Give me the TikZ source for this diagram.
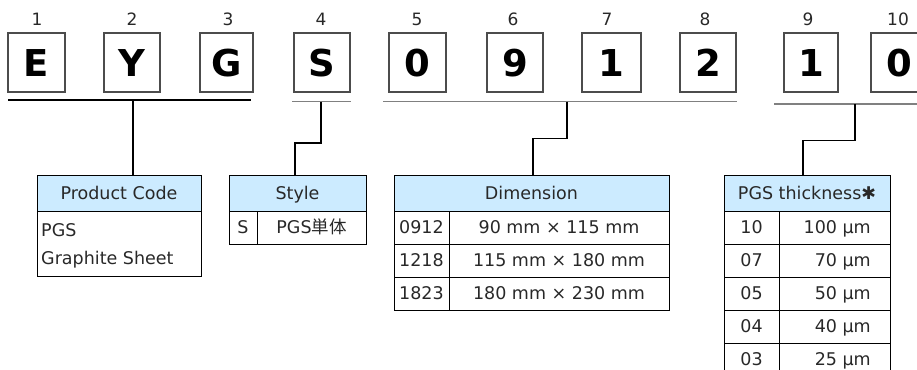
\documentclass[tikz,border=0pt]{standalone}
\usepackage{fontspec}
\setmainfont{DejaVu Sans}
\newfontfamily\cjk{Noto Sans CJK JP}
\definecolor{hdr}{RGB}{204,235,255}
\definecolor{txt}{RGB}{40,40,40}
\newcommand{\tcell}[7]{\node[#1,minimum width={(#5-#3)*1pt},minimum height={(#6-#4)*1pt}] (#2) at ({(#3+#5)/2},{(#4+#6)/2}) {#7};}
\begin{document}
\begin{tikzpicture}[x=1pt,y=-1pt,
  digit/.style={draw=black!70,line width=1.1pt,inner sep=0pt,font=\fontsize{37}{37}\selectfont\bfseries,minimum height=59pt,text height=27pt,text depth=0pt},
  num/.style={font=\fontsize{17}{17}\selectfont,inner sep=0pt,text height=12.4pt,text depth=0pt,text=txt},
  cell/.style={draw=black,line width=1pt,inner sep=0pt,font=\fontsize{17.5}{20}\selectfont,text height=12.7pt,text depth=0pt,text=txt},
  head/.style={cell,fill=hdr},
  plain/.style={inner sep=0pt,font=\fontsize{17.5}{20}\selectfont,text height=12.7pt,text depth=0pt,text=txt},
  uline/.style={line width=1.4pt,draw=black!50},
  conn/.style={line width=1.6pt,draw=black}]
\path[use as bounding box] (0,0) rectangle (917,369);
\clip (0,0) rectangle (917,369);

% digit boxes
\tcell{digit}{d1}{8}{33}{65}{92}{E}
\tcell{digit}{d2}{104}{33}{160}{92}{Y}
\tcell{digit}{d3}{200}{33}{253}{92}{G}
\tcell{digit}{d4}{294}{33}{350}{92}{S}
\tcell{digit}{d5}{389}{33}{446}{92}{0}
\tcell{digit}{d6}{487}{33}{543}{92}{9}
\tcell{digit}{d7}{582}{33}{641}{92}{1}
\tcell{digit}{d8}{680}{33}{736}{92}{2}
\tcell{digit}{d9}{784}{33}{838}{92}{1}
\tcell{digit}{d10}{871}{33}{928}{92}{0}

% position numbers
\node[num] (n1) at (37,19.5) {1};
\node[num] (n2) at (132,19.5) {2};
\node[num] (n3) at (228,19.5) {3};
\node[num] (n4) at (321,19.5) {4};
\node[num] (n5) at (417,19.5) {5};
\node[num] (n6) at (513,19.5) {6};
\node[num] (n7) at (607,19.5) {7};
\node[num] (n8) at (705,19.5) {8};
\node[num] (n9) at (808,19.5) {9};
\node[num] (n10) at (898,19.5) {10};

% underlines
\draw[uline,draw=black,line width=1.6pt] (8,100) -- (251,100);
\draw[uline] (292,101.7) -- (351,101.7);
\draw[uline] (383,101.5) -- (737,101.5);
\draw[uline] (774,104) -- (917,104);
\coordinate (u1) at (133,100);
\coordinate (u2) at (321,101.7);
\coordinate (u3) at (567,101.5);
\coordinate (u4) at (855,104);

% Product Code table
\tcell{head}{pch}{37}{175}{201}{211}{Product Code}
\tcell{cell}{pcb}{37}{211}{201}{276}{}
\node[plain,anchor=west] (pc1) at (41,230) {PGS};
\node[plain,anchor=west] (pc2) at (41,258) {Graphite Sheet};

% Style table
\tcell{head}{sth}{229}{175}{366}{211}{Style}
\tcell{cell}{st1a}{229}{211}{257}{244}{S}
\tcell{cell}{st1b}{257}{211}{366}{244}{PGS{\cjk 単体}}

% Dimension table
\tcell{head}{dmh}{394}{175}{669}{211}{Dimension}
\tcell{cell}{dm1a}{394}{211}{449}{244}{0912}
\tcell{cell}{dm1b}{449}{211}{669}{244}{90 mm × 115 mm}
\tcell{cell}{dm2a}{394}{244}{449}{277}{1218}
\tcell{cell}{dm2b}{449}{244}{669}{277}{115 mm × 180 mm}
\tcell{cell}{dm3a}{394}{277}{449}{310}{1823}
\tcell{cell}{dm3b}{449}{277}{669}{310}{180 mm × 230 mm}

% Thickness table
\tcell{head}{thh}{724}{175}{890}{211}{PGS thickness✱}
\tcell{cell}{th1a}{724}{211}{779}{244}{10}
\tcell{cell}{th1b}{779}{211}{890}{244}{}
\tcell{cell}{th2a}{724}{244}{779}{277}{07}
\tcell{cell}{th2b}{779}{244}{890}{277}{}
\tcell{cell}{th3a}{724}{277}{779}{310}{05}
\tcell{cell}{th3b}{779}{277}{890}{310}{}
\tcell{cell}{th4a}{724}{310}{779}{343}{04}
\tcell{cell}{th4b}{779}{310}{890}{343}{}
\tcell{cell}{th5a}{724}{343}{779}{376}{03}
\tcell{cell}{th5b}{779}{343}{890}{376}{}
\node[plain,anchor=east] (tv1) at (871,227.5) {100 µm};
\node[plain,anchor=east] (tv2) at (871,260.5) {70 µm};
\node[plain,anchor=east] (tv3) at (871,293.5) {50 µm};
\node[plain,anchor=east] (tv4) at (871,326.5) {40 µm};
\node[plain,anchor=east] (tv5) at (871,359.5) {25 µm};

% connectors
\draw[conn] (u1) -- (u1 |- pch.north);
\draw[conn] (u2) -- ++(0,41.5) -| ([xshift=-2.5pt]sth.north);
\draw[conn] (u3) -- ++(0,37) -| ([xshift=1.5pt]dmh.north);
\draw[conn] (u4) -- ++(0,36.5) -| ([xshift=-4pt]thh.north);
\end{tikzpicture}
\end{document}
